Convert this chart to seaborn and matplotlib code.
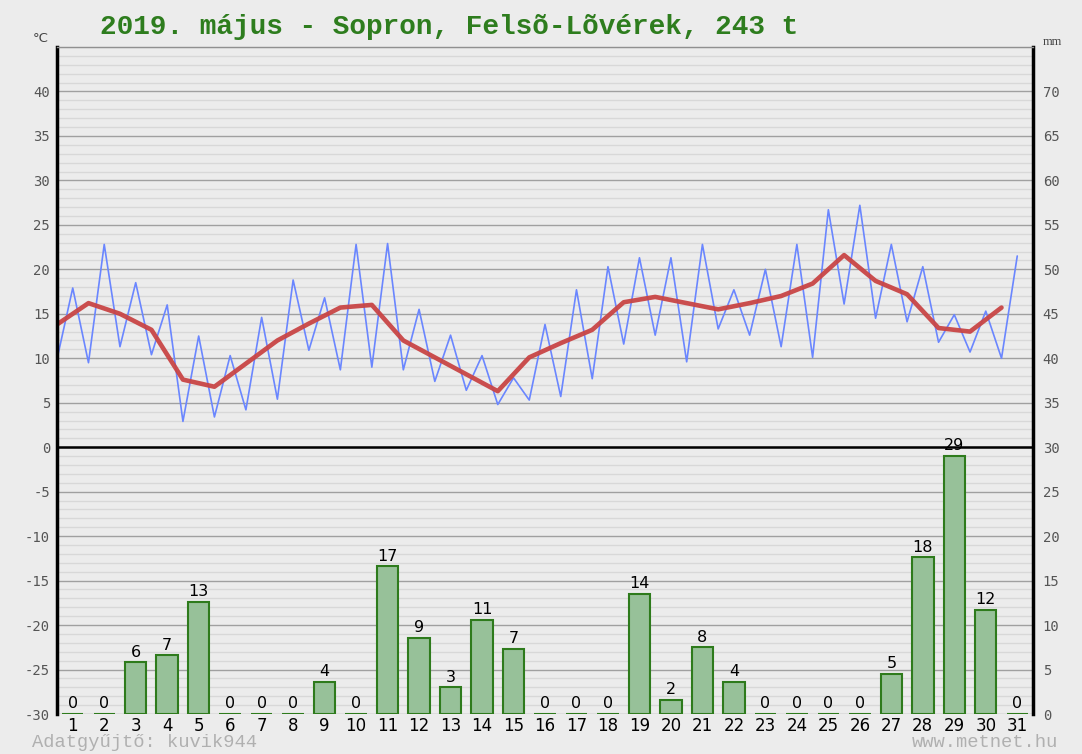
import numpy as np
import pandas as pd
import seaborn as sns
import matplotlib.pyplot as plt
from matplotlib.ticker import MultipleLocator

# Napi adatok - 2019. május, Sopron
days = list(range(1, 32))
tmin = [9.9, 9.5, 11.3, 10.4, 2.9, 3.4, 4.2, 5.4, 10.9, 8.7, 9.0, 8.7, 7.4, 6.4, 4.8, 5.3,
        5.7, 7.7, 11.6, 12.6, 9.6, 13.3, 12.6, 11.3, 10.1, 16.1, 14.5, 14.1, 11.8, 10.7, 10.0]
tmax = [17.9, 22.8, 18.5, 16.0, 12.5, 10.3, 14.6, 18.8, 16.8, 22.8, 22.9, 15.5, 12.6, 10.3, 7.8, 13.8,
        17.7, 20.3, 21.3, 21.3, 22.8, 17.7, 20.0, 22.8, 26.7, 27.2, 22.8, 20.3, 14.9, 15.3, 21.5]
tmean = [13.8, 16.2, 15.0, 13.2, 7.6, 6.8, 9.4, 12.0, 13.9, 15.7, 16.0, 12.0, 10.1, 8.2, 6.3, 10.1,
         11.7, 13.2, 16.3, 16.9, 16.2, 15.5, 16.2, 17.0, 18.4, 21.6, 18.7, 17.2, 13.4, 13.0, 15.7]
precip = [0, 0, 5.8, 6.6, 12.6, 0, 0, 0, 3.6, 0, 16.6, 8.6, 3.0, 10.6, 7.3, 0,
          0, 0, 13.5, 1.6, 7.5, 3.6, 0, 0, 0, 0, 4.5, 17.6, 29.0, 11.7, 0]
precip_labels = [str(int(p + 0.5)) for p in precip]

temp_ticks = list(range(-30, 45, 5))
mm_ticks = list(range(0, 75, 5))

title = "2019. május - Sopron, Felsõ-Lõvérek, 243 t"

sns.set_style("white")
plt.rcParams['font.family'] = ['DejaVu Sans']

bg = '#ececec'
fig = plt.figure(figsize=(10.82, 7.54), dpi=100, facecolor=bg)
ax = fig.add_axes([57 / 1082, 1 - 714 / 754, 976 / 1082, 667 / 754])
ax.set_facecolor(bg)
ax2 = ax.twinx()

# csapadék oszlopok (jobb tengely, mm)
sns.barplot(x=days, y=precip, native_scale=True, color='#97c199', edgecolor='#2e7b1c',
            linewidth=1.5, width=0.68, saturation=1, errorbar=None, ax=ax2)
ax2.bar_label(ax2.containers[0], labels=precip_labels, padding=2, fontsize=11.5, color='black')

# hőmérséklet: min-max cikkcakk és napi középhőmérséklet
zig = pd.DataFrame({
    'x': np.column_stack([np.array(days) - 0.5, days]).ravel(),
    't': np.column_stack([tmin, tmax]).ravel(),
})
sns.lineplot(data=zig, x='x', y='t', ax=ax, color='#6a86ff', lw=1.2)
sns.lineplot(x=np.array(days) - 0.5, y=tmean, ax=ax, color='#c94545', lw=3.3, alpha=0.95)

ax.set_ylim(-30, 45)
ax2.set_ylim(0, 75)
ax.set_xlim(0.5, 31.5)

ax.yaxis.set_minor_locator(MultipleLocator(1))
ax.grid(which='major', axis='y', color='#a0a0a0', lw=1)
ax.grid(which='minor', axis='y', color='#d8d8d8', lw=1)
ax.grid(which='major', axis='x', visible=False)
ax.set_axisbelow(True)
ax.axhline(0, color='black', lw=1.8, zorder=1.5)

ax.set_yticks(temp_ticks, labels=[str(t) for t in temp_ticks], fontfamily='DejaVu Sans Mono')
ax2.set_yticks(mm_ticks, labels=[str(t) for t in mm_ticks], fontfamily='DejaVu Sans Mono')
ax.tick_params(axis='y', which='both', length=0, labelsize=10, labelcolor='#555555', pad=5)
ax2.tick_params(axis='y', which='both', length=0, labelsize=10, labelcolor='#555555', pad=7)
ax.set_xticks(days, labels=[str(d) for d in days])
ax.tick_params(axis='x', length=0, labelsize=12, labelcolor='black', pad=2)

for a in (ax, ax2):
    a.set_xlabel('')
    a.set_ylabel('')
    for s in a.spines.values():
        s.set_visible(False)
for side in ('left', 'right'):
    ax2.spines[side].set_visible(True)
    ax2.spines[side].set_color('black')
    ax2.spines[side].set_linewidth(2.5)
ax2.spines['top'].set_visible(True)
ax2.spines['top'].set_color('#909090')
ax2.spines['top'].set_linewidth(1)

fig.text(0.415, 0.964, title, ha='center', va='center', fontsize=20, fontweight='bold',
         color='#2e7d1e', family='Liberation Mono')
fig.text(0.03, 0.949, '°C', ha='left', va='center', fontsize=9.5, color='#444444')
fig.text(0.964, 0.944, 'mm', ha='left', va='center', fontsize=9, color='#444444',
         family='Liberation Serif')
fig.text(0.0296, 0.004, 'Adatgyűjtő: kuvik944', ha='left', va='bottom', fontsize=13.5,
         color='#b0b0b0', family='Liberation Mono')
fig.text(0.978, 0.004, 'www.metnet.hu', ha='right', va='bottom', fontsize=13.5,
         color='#b0b0b0', family='Liberation Mono')

plt.savefig('out.png', dpi=100, facecolor=bg)
